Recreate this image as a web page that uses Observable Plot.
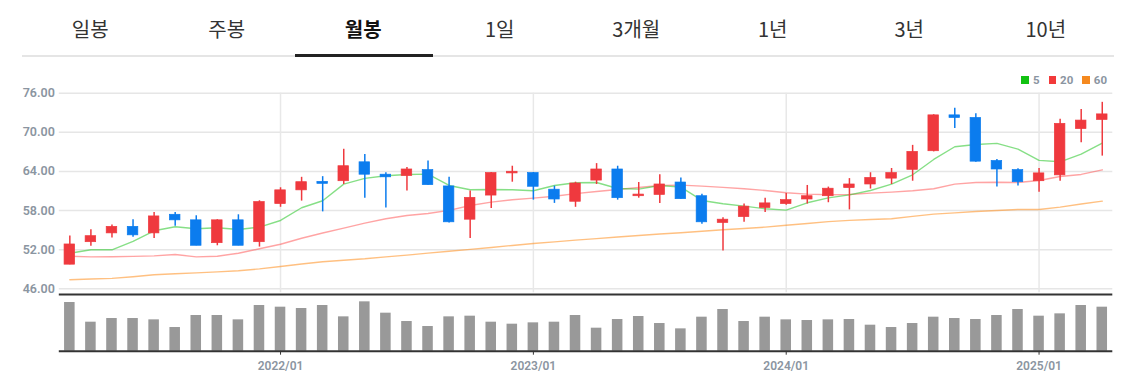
<!DOCTYPE html>
<html><head><meta charset="utf-8">
<script src="https://cdn.jsdelivr.net/npm/d3@7"></script>
<script src="https://cdn.jsdelivr.net/npm/@observablehq/plot@0.6"></script>
<style>
body{margin:0;background:#fff;width:1135px;height:383px;overflow:hidden;position:relative;font-family:Roboto,"Noto Sans CJK KR",sans-serif}
.tab{position:absolute;top:14px;width:136.5px;text-align:center;font-family:"Noto Sans CJK KR";font-size:20px;line-height:30px;color:#333}
.tab.sel{font-weight:700;color:#111}
#tabline{position:absolute;left:22px;top:54.5px;width:1092px;height:2px;background:#e5e5e5}
#selline{position:absolute;top:53.5px;width:138px;height:3px;background:#222}
#price{position:absolute;left:0;top:60px}
#vol{position:absolute;left:0;top:292px}
#vol svg text{fill:#8b95a1}
#legend{position:absolute;top:73px;right:28px;display:flex;align-items:center;font:700 11.5px Roboto;color:#8b95a1}
#legend .sw{width:7.5px;height:7.5px;margin-right:4px}
#legend .lb{margin-right:9px}
#legend .lb:last-child{margin-right:0}
</style>
</head><body>
<div id="tabs"></div>
<div id="tabline"></div>
<div id="selline"></div>
<div id="legend"></div>
<div id="price"></div>
<div id="vol"></div>
<script>
const tabs = ["일봉","주봉","월봉","1일","3개월","1년","3년","10년"];
const selectedTab = "월봉";
const months = ["2021/03","2021/04","2021/05","2021/06","2021/07","2021/08","2021/09","2021/10","2021/11","2021/12",
"2022/01","2022/02","2022/03","2022/04","2022/05","2022/06","2022/07","2022/08","2022/09","2022/10","2022/11","2022/12",
"2023/01","2023/02","2023/03","2023/04","2023/05","2023/06","2023/07","2023/08","2023/09","2023/10","2023/11","2023/12",
"2024/01","2024/02","2024/03","2024/04","2024/05","2024/06","2024/07","2024/08","2024/09","2024/10","2024/11","2024/12",
"2025/01","2025/02","2025/03","2025/04"];
const open  = [49.7,53.15,54.5,55.5,54.5,57.35,56.5,53.0,56.5,53.15,59.0,61.1,62.4,62.5,65.4,63.5,63.3,64.2,61.7,56.6,60.3,63.7,63.75,61.2,59.35,62.6,64.3,60.2,60.4,62.3,60.2,56.1,57.0,58.4,59.0,59.7,60.2,61.45,62.0,62.9,64.25,67.1,72.6,72.2,65.6,64.2,62.5,63.4,70.5,71.9];
const close = [52.8,54.07,55.5,54.2,57.1,56.5,52.6,56.5,52.6,59.3,61.1,62.35,62.1,64.8,63.5,63.1,64.3,61.9,56.2,59.95,63.75,63.95,61.65,59.7,62.15,64.3,59.9,60.45,62.0,59.75,56.2,56.6,58.6,59.1,59.6,60.2,61.35,62.0,63.0,63.75,67.0,72.6,72.2,65.5,64.3,62.35,63.7,71.3,71.8,72.75];
const high  = [54.1,55.05,55.8,56.6,57.7,57.7,57.2,56.6,57.35,59.5,61.5,63.1,63.2,67.4,66.6,63.8,64.6,65.6,63.1,61.0,63.85,64.8,63.85,61.75,62.35,65.2,64.8,62.3,63.5,63.0,60.5,56.9,59.0,59.9,60.6,61.85,61.6,62.9,63.8,64.45,68.0,72.7,73.7,72.85,65.85,64.4,64.45,72.0,73.5,74.6];
const low   = [49.7,52.54,53.8,53.9,53.7,55.6,52.6,52.6,52.6,52.4,58.5,59.45,57.8,62.0,59.9,58.4,61.0,61.9,56.1,53.7,58.3,62.35,59.6,59.1,58.5,62.0,59.6,59.9,59.1,59.75,55.9,51.8,56.2,57.7,58.8,59.0,59.2,58.1,61.3,62.0,62.5,67.0,70.6,65.4,61.6,61.75,60.8,62.5,68.4,66.35];
const ma5   = [51.46,51.98,51.98,53.26,54.9,55.51,55.2,55.36,55.1,55.46,56.48,58.43,59.5,62.05,62.93,63.33,63.54,63.59,61.85,61.19,61.24,61.19,61.04,61.85,62.26,62.3,61.39,61.29,61.85,61.6,59.55,59.04,58.68,58.27,58.06,59.19,59.95,60.4,61.08,62.05,63.49,65.84,67.79,68.14,68.3,67.42,65.69,65.48,66.65,68.35];
const ma20  = [51.0,50.9,50.92,50.97,51.05,51.26,50.9,51.0,51.46,52.14,52.84,53.76,54.55,55.3,56.07,56.74,57.25,57.55,58.02,58.78,59.29,59.65,59.9,60.2,60.6,60.92,61.24,61.54,61.85,61.9,61.75,61.55,61.34,61.08,60.73,60.52,60.42,60.47,60.67,60.83,61.04,61.34,62.05,62.3,62.35,62.3,62.62,63.23,63.54,64.25];
const ma60  = [47.38,47.5,47.6,47.85,48.15,48.3,48.45,48.6,48.76,49.05,49.42,49.8,50.15,50.38,50.6,50.9,51.17,51.47,51.77,52.05,52.34,52.65,52.95,53.2,53.46,53.7,53.95,54.18,54.4,54.6,54.83,55.05,55.25,55.46,55.75,56.02,56.3,56.5,56.62,56.74,57.1,57.45,57.65,57.86,58.0,58.17,58.17,58.53,59.0,59.45];
const volume = [1460,870,980,980,940,710,1070,1070,940,1370,1320,1280,1370,1030,1480,1140,890,740,1030,1050,870,810,850,870,1070,690,950,1040,830,670,1020,1250,890,1020,940,920,940,950,780,710,830,1020,980,950,1070,1250,1050,1120,1370,1320];
const yTicks = [46,52,58,64,70,76];
const xTickLabels = ["2022/01","2023/01","2024/01","2025/01"];
const maLabels = ["5","20","60"];
const maLegendColors = ["#12c212","#f23a3a","#f5891f"];
const maLineColors = ["#35c935","#ff4a4a","#ff8c1a"];
const UP = "#ef393e", DOWN = "#0b7cee", VOLCOLOR = "#999999";

// tabs
const tabsEl = document.getElementById("tabs");
tabs.forEach((t, k) => {
  const d = document.createElement("div");
  d.className = "tab" + (t === selectedTab ? " sel" : "");
  d.style.left = (22 + k * 136.5) + "px";
  d.textContent = t;
  tabsEl.appendChild(d);
});
document.getElementById("selline").style.left = (22 + tabs.indexOf(selectedTab) * 136.5 - 0.5) + "px";

// legend
const lg = document.getElementById("legend");
maLabels.forEach((l, k) => {
  const s = document.createElement("div"); s.className = "sw"; s.style.background = maLegendColors[k]; lg.appendChild(s);
  const t = document.createElement("div"); t.className = "lb"; t.textContent = l; lg.appendChild(t);
});

const n = months.length;
const candles = months.map((m, i) => ({i, m, open: open[i], close: close[i], high: high[i], low: low[i],
  ma5: ma5[i], ma20: ma20[i], ma60: ma60[i], vol: volume[i]}));
const col = d => d.close >= d.open ? UP : DOWN;
const xTickIdx = xTickLabels.map(l => months.indexOf(l));
const W = 1135, ML = 58.8, MR = 22.7;
const half = 0.25;

const price = Plot.plot({
  width: W, height: 242, marginLeft: ML, marginRight: MR, marginTop: 32.7, marginBottom: 13.7,
  style: {background: "transparent", color: "#8b95a1", fontFamily: "Roboto", fontSize: "12.5px", fontWeight: 600},
  x: {type: "linear", domain: [-0.5, n - 0.5], axis: null},
  y: {domain: [46, 76], ticks: yTicks, tickFormat: d => d.toFixed(2), tickSize: 0, tickPadding: 4.5, label: null},
  color: {type: "identity"},
  marks: [
    Plot.ruleY(yTicks, {stroke: "#e6e6e6", strokeWidth: 1.5}),
    Plot.ruleX(xTickIdx, {stroke: "#e8e8e8", strokeWidth: 1.5, insetBottom: -4}),
    Plot.line(candles, {x: "i", y: "ma60", stroke: maLineColors[2], strokeOpacity: 0.55, strokeWidth: 1.4}),
    Plot.line(candles, {x: "i", y: "ma20", stroke: maLineColors[1], strokeOpacity: 0.5, strokeWidth: 1.4}),
    Plot.line(candles, {x: "i", y: "ma5", stroke: maLineColors[0], strokeOpacity: 0.6, strokeWidth: 1.4}),
    Plot.ruleX(candles, {x: "i", y1: "low", y2: "high", stroke: col, strokeWidth: 1.5}),
    Plot.rectY(candles, {x1: d => d.i - half, x2: d => d.i + half, y1: "open", y2: "close", fill: col, stroke: col, strokeWidth: 0.7})
  ]
});
document.getElementById("price").appendChild(price);

const volMax = 1700;
const vol = Plot.plot({
  width: W, height: 91, marginLeft: ML, marginRight: MR, marginTop: 2, marginBottom: 32.3,
  style: {background: "transparent", color: "#333", fontFamily: "Roboto", fontSize: "12px", fontWeight: 600},
  x: {type: "linear", domain: [-0.5, n - 0.5], ticks: xTickIdx, tickFormat: i => months[i], tickSize: 4, tickPadding: 6, label: null},
  y: {domain: [0, volMax], axis: null},
  marks: [
    Plot.rectY(candles, {x1: d => d.i - half, x2: d => d.i + half, y: "vol", fill: VOLCOLOR}),
    Plot.ruleY([0], {stroke: "#333", strokeWidth: 2}),
    Plot.ruleY([volMax], {stroke: "#333", strokeWidth: 2})
  ]
});
document.getElementById("vol").appendChild(vol);
</script>
</body></html>
